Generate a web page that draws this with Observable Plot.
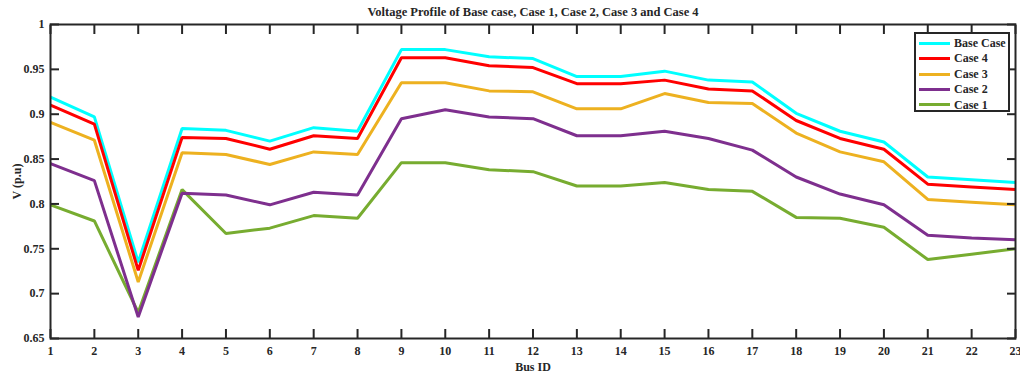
<!DOCTYPE html>
<html><head><meta charset="utf-8">
<script src="https://cdn.jsdelivr.net/npm/d3@7"></script>
<script src="https://cdn.jsdelivr.net/npm/@observablehq/plot@0.6"></script>
<style>
body{margin:0;background:#fff;}
#wrap{position:relative;width:1020px;height:373px;font-family:"Liberation Serif","Times New Roman",serif;font-weight:bold;color:#262626;}
#title{position:absolute;left:533px;top:5px;transform:translateX(-50%);font-size:12.5px;line-height:14px;white-space:nowrap;}
#chart{position:absolute;left:0;top:0;}
#legend{position:absolute;left:914px;top:32px;width:92px;height:76px;border:2px solid #262626;background:#fff;font-size:12px;}
#legend .row{position:absolute;left:3px;height:14px;line-height:14px;white-space:nowrap;}
#legend .sw{display:inline-block;width:31px;height:3px;vertical-align:middle;margin-right:4px;position:relative;top:-1px;}
</style></head><body>
<div id="wrap"><div id="chart"></div><div id="title">Voltage Profile of Base case, Case 1, Case 2, Case 3 and Case 4</div><div id="legend"></div></div>
<script>
const busIds = [1,2,3,4,5,6,7,8,9,10,11,12,13,14,15,16,17,18,19,20,21,22,23];
const baseCase = [0.919,0.897,0.735,0.884,0.882,0.870,0.885,0.881,0.972,0.972,0.964,0.962,0.942,0.942,0.948,0.938,0.936,0.901,0.881,0.869,0.830,0.827,0.824];
const case4 = [0.910,0.889,0.726,0.874,0.873,0.861,0.876,0.873,0.963,0.963,0.954,0.952,0.934,0.934,0.938,0.928,0.926,0.893,0.873,0.861,0.822,0.819,0.816];
const case3 = [0.891,0.871,0.713,0.857,0.855,0.844,0.858,0.855,0.935,0.935,0.926,0.925,0.906,0.906,0.923,0.913,0.912,0.879,0.858,0.847,0.805,0.802,0.799];
const case2 = [0.845,0.826,0.674,0.812,0.810,0.799,0.813,0.810,0.895,0.905,0.897,0.895,0.876,0.876,0.881,0.873,0.860,0.830,0.811,0.799,0.765,0.762,0.760];
const case1 = [0.799,0.781,0.679,0.816,0.767,0.773,0.787,0.784,0.846,0.846,0.838,0.836,0.820,0.820,0.824,0.816,0.814,0.785,0.784,0.774,0.738,0.744,0.750];
const seriesNames = ["Base Case","Case 4","Case 3","Case 2","Case 1"];
const seriesColors = ["#00FFFF","#FF0000","#EDB120","#7E2F8E","#77AC30"];
const yTicks = [0.65,0.7,0.75,0.8,0.85,0.9,0.95,1];
const title = "Voltage Profile of Base case, Case 1, Case 2, Case 3 and Case 4";
const xLabel = "Bus ID";
const yLabel = "V (p.u)";

const seriesValues = {"Base Case": baseCase, "Case 4": case4, "Case 3": case3, "Case 2": case2, "Case 1": case1};
const drawOrder = ["Base Case","Case 1","Case 2","Case 3","Case 4"];
const rows = drawOrder.flatMap(name => busIds.map((b,i) => ({series:name, bus:b, v:seriesValues[name][i]})));

const axisColor = "#262626";
const blank = () => "";
const chart = Plot.plot({
  width:1020, height:373,
  marginTop:24, marginBottom:35, marginLeft:50, marginRight:5,
  x:{domain:[1,23]},
  y:{domain:[0.65,1]},
  color:{domain:seriesNames, range:seriesColors},
  style:{fontFamily:'"Liberation Serif","Times New Roman",serif', fontWeight:"bold", fontSize:"12px", color:axisColor, background:"transparent", overflow:"visible"},
  marks:[
    Plot.line(rows,{x:"bus", y:"v", z:"series", stroke:"series", strokeWidth:3, strokeLinejoin:"miter", strokeLinecap:"butt"}),
    Plot.frame({stroke:axisColor, strokeWidth:2}),
    Plot.axisX({anchor:"bottom", ticks:busIds, tickSize:0, tickPadding:8, tickFormat:d=>String(d), label:xLabel, labelAnchor:"center", labelOffset:32, labelArrow:"none", fill:axisColor}),
    Plot.axisX({anchor:"bottom", ticks:busIds, tickSize:-9, tickFormat:blank, label:null, stroke:axisColor, strokeWidth:2}),
    Plot.axisX({anchor:"top", ticks:busIds, tickSize:-9, tickFormat:blank, label:null, stroke:axisColor, strokeWidth:2}),
    Plot.axisY({anchor:"left", ticks:yTicks, tickSize:0, tickPadding:6, tickFormat:d3.format("~g"), label:yLabel, labelAnchor:"center", labelOffset:38, labelArrow:"none", fill:axisColor}),
    Plot.axisY({anchor:"left", ticks:yTicks, tickSize:-9, tickFormat:blank, label:null, stroke:axisColor, strokeWidth:2}),
    Plot.axisY({anchor:"right", ticks:yTicks, tickSize:-9, tickFormat:blank, label:null, stroke:axisColor, strokeWidth:2})
  ]
});
document.getElementById("chart").appendChild(chart);

const legend = document.getElementById("legend");
seriesNames.forEach((name,i) => {
  const row = document.createElement("div");
  row.className = "row";
  row.style.top = (2 + i*15.4) + "px";
  const sw = document.createElement("span");
  sw.className = "sw";
  sw.style.background = seriesColors[i];
  row.appendChild(sw);
  row.appendChild(document.createTextNode(name));
  legend.appendChild(row);
});
</script>
</body></html>
